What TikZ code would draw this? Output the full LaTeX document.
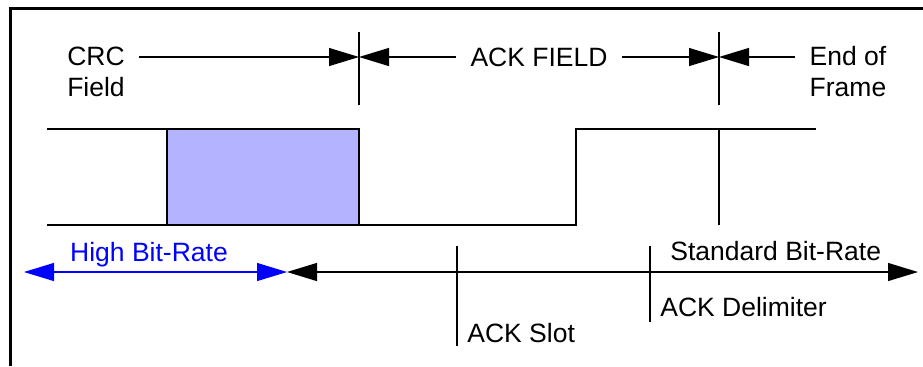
\documentclass[tikz,border=0pt]{standalone}
\usepackage{fontspec}
\setmainfont{Liberation Sans}
\usetikzlibrary{arrows.meta,positioning}
\definecolor{crcblue}{RGB}{179,179,255}
\tikzset{
  lab/.style   = {font=\fontsize{13.25}{15.5}\selectfont, align=center,
                  inner xsep=7pt, inner ysep=0pt},
  labw/.style  = {lab, inner xsep=0pt, anchor=west},
  sig/.style   = {draw=black, line width=0.6pt},
  arr/.style   = {-{Triangle[length=15pt,width=9pt]}, draw=black, line width=0.6pt},
  darr/.style  = {{Triangle[length=15pt,width=9pt]}-{Triangle[length=15pt,width=9pt]},
                  draw=black, line width=0.6pt},
  barr/.style  = {{Triangle[length=15pt,width=9pt]}-{Triangle[length=15pt,width=9pt]},
                  draw=blue, line width=0.6pt},
}
\begin{document}
\begin{tikzpicture}[x=0.5pt, y=-0.5pt]
  \useasboundingbox (0,0) rectangle (923,366);
  \draw[line width=1.4pt] (10.5,366) -- (10.5,8.5) -- (923,8.5);
  \coordinate (crcend) at (359,57);
  \coordinate (ackend) at (719,57);
  \node[lab] (crc) at (96,72) {CRC\\Field};
  \node[lab] (ack) at (539,57) {ACK FIELD};
  \node[lab] (eof) at (848,72) {End of\\Frame};
  \draw[sig] (359,32) -- (359,105);
  \draw[sig] (719,32) -- (719,105);
  \draw[arr] (crc.east |- crcend) -- (crcend);
  \draw[arr] (ack.west) -- (crcend);
  \draw[arr] (ack.east) -- (ackend);
  \draw[arr] (eof.west |- ackend) -- (ackend);
  \draw[sig] (47,129) -- (167,129) (47,225) -- (167,225);
  \draw[sig, fill=crcblue] (167,129) rectangle (359,225);
  \draw[sig] (359,225) -- (576,225) -- (576,129) -- (816,129) (719,129) -- (719,225);
  \coordinate (hbl) at (24,272);
  \coordinate (hbr) at (287,272);
  \coordinate (sbr) at (918,272);
  \draw[barr] (hbl) -- (hbr);
  \draw[darr] (hbr) -- (sbr);
  \node[lab, text=blue] (high) at (149,255) {High Bit-Rate};
  \node[labw] (std) at (670,251) {Standard Bit-Rate};
  \draw[sig] (457,246) -- (457,346);
  \draw[sig] (650,246) -- (650,322);
  \node[labw] (slot) at (467,333) {ACK Slot};
  \node[labw] (delim) at (660,307) {ACK Delimiter};
\end{tikzpicture}
\end{document}
